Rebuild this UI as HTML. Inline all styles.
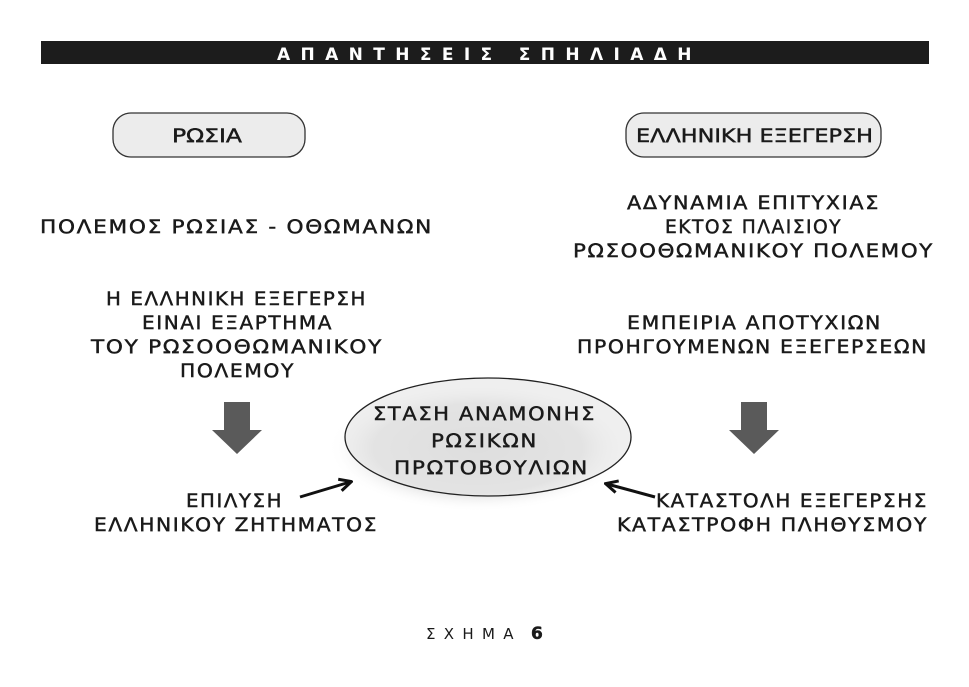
<!DOCTYPE html>
<html><head><meta charset="utf-8"><style>
html,body{margin:0;padding:0;background:#fff;}
svg text{font-family:"DejaVu Sans","Liberation Sans",sans-serif;fill:#1a1a1a;stroke:#1a1a1a;stroke-width:0.45px;letter-spacing:1.5px;}
</style></head><body>
<svg width="969" height="682" viewBox="0 0 969 682" xmlns="http://www.w3.org/2000/svg">
<defs>
<radialGradient id="g" cx="50%" cy="50%" r="50%">
<stop offset="0" stop-color="#d4d4d4"/><stop offset="0.7" stop-color="#e2e2e2"/><stop offset="1" stop-color="#fff" stop-opacity="0"/>
</radialGradient>
<marker id="ah" viewBox="0 0 10 10" refX="8" refY="5" markerWidth="5" markerHeight="5" orient="auto"><path d="M1,1 L9,5 L1,9" fill="none" stroke="#111" stroke-width="2"/></marker>
</defs>
<rect x="41" y="41" width="888" height="23" fill="#1c1c1c"/>
<text x="277" y="60" textLength="416" lengthAdjust="spacing" font-size="17" font-weight="bold" style="fill:#fff;stroke:none">ΑΠΑΝΤΗΣΕΙΣ ΣΠΗΛΙΑΔΗ</text>
<rect x="113" y="113" width="192" height="44" rx="18" fill="#ececec" stroke="#333" stroke-width="1.3"/>
<text x="172" y="142" textLength="70" lengthAdjust="spacingAndGlyphs" font-size="19" style="letter-spacing:0">ΡΩΣΙΑ</text>
<rect x="626" y="113" width="255" height="44" rx="18" fill="#ececec" stroke="#333" stroke-width="1.3"/>
<text x="636" y="142" textLength="237" lengthAdjust="spacingAndGlyphs" font-size="19" style="letter-spacing:0">ΕΛΛΗΝΙΚΗ ΕΞΕΓΕΡΣΗ</text>
<g font-size="19">
<text x="40" y="233" textLength="393" lengthAdjust="spacingAndGlyphs">ΠΟΛΕΜΟΣ ΡΩΣΙΑΣ - ΟΘΩΜΑΝΩΝ</text>
<text x="627" y="209" textLength="253" lengthAdjust="spacingAndGlyphs">ΑΔΥΝΑΜΙΑ ΕΠΙΤΥΧΙΑΣ</text>
<text x="665" y="233" textLength="177" lengthAdjust="spacingAndGlyphs">ΕΚΤΟΣ ΠΛΑΙΣΙΟΥ</text>
<text x="573" y="257" textLength="361" lengthAdjust="spacingAndGlyphs">ΡΩΣΟΟΘΩΜΑΝΙΚΟΥ ΠΟΛΕΜΟΥ</text>
<text x="106" y="305" textLength="261" lengthAdjust="spacingAndGlyphs">Η ΕΛΛΗΝΙΚΗ ΕΞΕΓΕΡΣΗ</text>
<text x="142" y="329" textLength="191" lengthAdjust="spacingAndGlyphs">ΕΙΝΑΙ ΕΞΑΡΤΗΜΑ</text>
<text x="91" y="353" textLength="292" lengthAdjust="spacingAndGlyphs">ΤΟΥ ΡΩΣΟΟΘΩΜΑΝΙΚΟΥ</text>
<text x="180" y="377" textLength="115" lengthAdjust="spacingAndGlyphs">ΠΟΛΕΜΟΥ</text>
<text x="627" y="329" textLength="255" lengthAdjust="spacingAndGlyphs">ΕΜΠΕΙΡΙΑ ΑΠΟΤΥΧΙΩΝ</text>
<text x="577" y="353" textLength="351" lengthAdjust="spacingAndGlyphs">ΠΡΟΗΓΟΥΜΕΝΩΝ ΕΞΕΓΕΡΣΕΩΝ</text>
<text x="186" y="507" textLength="97" lengthAdjust="spacingAndGlyphs">ΕΠΙΛΥΣΗ</text>
<text x="94" y="531" textLength="284" lengthAdjust="spacingAndGlyphs">ΕΛΛΗΝΙΚΟΥ ΖΗΤΗΜΑΤΟΣ</text>
<text x="656" y="507" textLength="272" lengthAdjust="spacingAndGlyphs">ΚΑΤΑΣΤΟΛΗ ΕΞΕΓΕΡΣΗΣ</text>
<text x="617" y="531" textLength="311" lengthAdjust="spacingAndGlyphs">ΚΑΤΑΣΤΡΟΦΗ ΠΛΗΘΥΣΜΟΥ</text>
</g>
<path d="M224,402 H250 V430 H262 L237,454 L212,430 H224 Z" fill="#5a5a5a"/>
<path d="M741,402 H767 V430 H779 L754,454 L729,430 H741 Z" fill="#5a5a5a"/>
<ellipse cx="478" cy="448" rx="150" ry="64" fill="url(#g)"/>
<ellipse cx="488" cy="437" rx="143" ry="59" fill="#e4e4e4" stroke="#222" stroke-width="1.3" fill-opacity="0.6"/>
<g font-size="19">
<text x="373" y="420" textLength="223" lengthAdjust="spacingAndGlyphs">ΣΤΑΣΗ ΑΝΑΜΟΝΗΣ</text>
<text x="431" y="447" textLength="107" lengthAdjust="spacingAndGlyphs">ΡΩΣΙΚΩΝ</text>
<text x="394" y="474" textLength="195" lengthAdjust="spacingAndGlyphs">ΠΡΩΤΟΒΟΥΛΙΩΝ</text>
</g>
<line x1="300" y1="497" x2="350" y2="482" stroke="#111" stroke-width="3" marker-end="url(#ah)"/>
<line x1="655" y1="497" x2="607" y2="484" stroke="#111" stroke-width="3" marker-end="url(#ah)"/>
<text x="426" y="639" textLength="89" lengthAdjust="spacing" font-size="15" style="stroke:none">ΣΧΗΜΑ</text>
<text x="531" y="639" font-size="17" font-weight="bold" style="letter-spacing:0">6</text>
</svg>
</body></html>
